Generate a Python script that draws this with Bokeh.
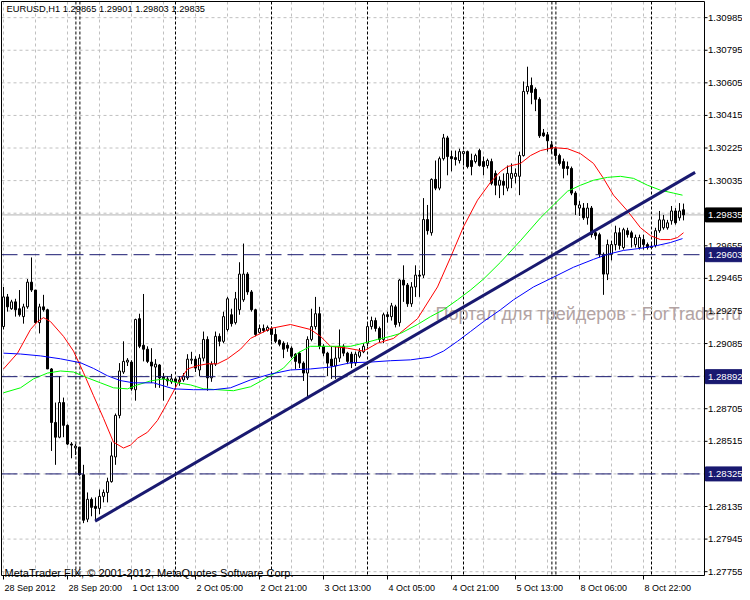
from bokeh.plotting import figure
from bokeh.models import ColumnDataSource, Range1d
from bokeh.core.properties import value
from bokeh.embed import file_html
from bokeh.resources import INLINE

# ---------------- data ----------------
opens = [
1.29184, 1.29357, 1.29288, 1.29328, 1.29288, 1.29242, 1.29299, 1.29443, 1.29397, 1.29207,
1.29299, 1.29282, 1.28937, 1.28625, 1.28539, 1.28741, 1.28608, 1.28499, 1.28477, 1.28481,
1.28320, 1.28061, 1.28177, 1.28136, 1.28124, 1.28194, 1.28217, 1.28280, 1.28424, 1.28666,
1.28919, 1.28977, 1.28977, 1.28816, 1.29230, 1.29075, 1.29052, 1.28977, 1.28948, 1.28960,
1.28890, 1.28879, 1.28862, 1.28879, 1.28862, 1.28873, 1.28885, 1.28988, 1.28994, 1.28931,
1.29000, 1.29109, 1.28885, 1.28965, 1.29127, 1.29098, 1.29167, 1.29253, 1.29207, 1.29282,
1.29340, 1.29490, 1.29386, 1.29282, 1.29150, 1.29173, 1.29161, 1.29173, 1.29138, 1.29104,
1.29087, 1.29075, 1.29058, 1.29023, 1.29029, 1.28971, 1.28913, 1.29109, 1.29184, 1.29259,
1.29069, 1.29029, 1.28994, 1.28954, 1.29000, 1.29069, 1.29029, 1.29023, 1.28971, 1.29011,
1.29037, 1.29087, 1.29184, 1.29219, 1.29173, 1.29109, 1.29253, 1.29242, 1.29299, 1.29207,
1.29455, 1.29426, 1.29317, 1.29415, 1.29484, 1.29484, 1.29808, 1.29731, 1.30042, 1.29991,
1.30163, 1.30284, 1.30175, 1.30169, 1.30152, 1.30192, 1.30204, 1.30152, 1.30146, 1.30210,
1.30146, 1.30123, 1.30146, 1.30077, 1.30008, 1.30031, 1.29991, 1.30048, 1.30060, 1.30060,
1.30181, 1.30555, 1.30590, 1.30567, 1.30509, 1.30313, 1.30302, 1.30244, 1.30221, 1.30181,
1.30146, 1.30117, 1.30106, 1.29962, 1.29875, 1.29875, 1.29818, 1.29875, 1.29731, 1.29720,
1.29605, 1.29490, 1.29605, 1.29662, 1.29731, 1.29645, 1.29743, 1.29731, 1.29662, 1.29645,
1.29691, 1.29662, 1.29645, 1.29657, 1.29743, 1.29760, 1.29760, 1.29801, 1.29858, 1.29818,
1.29865]

highs = [
1.29415, 1.29374, 1.29340, 1.29346, 1.29397, 1.29317, 1.29461, 1.29587, 1.29397, 1.29317,
1.29369, 1.29288, 1.28942, 1.28741, 1.28896, 1.28770, 1.28614, 1.28510, 1.28499, 1.28481,
1.28378, 1.28217, 1.28188, 1.28188, 1.28234, 1.28234, 1.28303, 1.28510, 1.28677, 1.28971,
1.29098, 1.29000, 1.28988, 1.29230, 1.29259, 1.29374, 1.29069, 1.29058, 1.28994, 1.28965,
1.28913, 1.28896, 1.28908, 1.28890, 1.28896, 1.28913, 1.29023, 1.29037, 1.29011, 1.29023,
1.29155, 1.29127, 1.28981, 1.29155, 1.29144, 1.29271, 1.29357, 1.29288, 1.29386, 1.29559,
1.29668, 1.29501, 1.29397, 1.29288, 1.29196, 1.29196, 1.29190, 1.29184, 1.29173, 1.29109,
1.29098, 1.29092, 1.29069, 1.29029, 1.29037, 1.28981, 1.29127, 1.29288, 1.29357, 1.29299,
1.29081, 1.29037, 1.29069, 1.29069, 1.29167, 1.29081, 1.29037, 1.29037, 1.29037, 1.29058,
1.29087, 1.29201, 1.29242, 1.29236, 1.29184, 1.29265, 1.29271, 1.29322, 1.29311, 1.29461,
1.29541, 1.29438, 1.29443, 1.29541, 1.29513, 1.29933, 1.29893, 1.30048, 1.30152, 1.30175,
1.30307, 1.30296, 1.30210, 1.30210, 1.30221, 1.30210, 1.30210, 1.30192, 1.30192, 1.30221,
1.30175, 1.30163, 1.30163, 1.30094, 1.30060, 1.30077, 1.30123, 1.30135, 1.30106, 1.30204,
1.30613, 1.30699, 1.30636, 1.30578, 1.30521, 1.30336, 1.30319, 1.30267, 1.30233, 1.30192,
1.30163, 1.30146, 1.30117, 1.29973, 1.29916, 1.29904, 1.29904, 1.29887, 1.29749, 1.29731,
1.29616, 1.29691, 1.29685, 1.29772, 1.29760, 1.29760, 1.29760, 1.29743, 1.29720, 1.29720,
1.29720, 1.29674, 1.29674, 1.29760, 1.29858, 1.29835, 1.29806, 1.29887, 1.29875, 1.29904,
1.29901]

lows = [
1.29167, 1.29271, 1.29282, 1.29242, 1.29242, 1.29201, 1.29288, 1.29386, 1.29201, 1.29144,
1.29271, 1.28937, 1.28459, 1.28378, 1.28533, 1.28539, 1.28493, 1.28416, 1.28435, 1.28314,
1.28038, 1.28044, 1.28078, 1.28050, 1.28090, 1.28159, 1.28159, 1.28274, 1.28378, 1.28649,
1.28908, 1.28954, 1.28810, 1.28752, 1.29058, 1.28981, 1.28971, 1.28856, 1.28827, 1.28827,
1.28752, 1.28839, 1.28850, 1.28827, 1.28839, 1.28862, 1.28873, 1.28965, 1.28919, 1.28896,
1.28981, 1.28810, 1.28862, 1.28954, 1.29069, 1.29087, 1.29155, 1.29184, 1.29196, 1.29253,
1.29328, 1.29369, 1.29271, 1.29127, 1.29144, 1.29150, 1.29155, 1.29098, 1.29087, 1.29069,
1.29000, 1.29037, 1.29000, 1.28937, 1.28942, 1.28867, 1.28764, 1.29098, 1.29167, 1.29052,
1.29011, 1.28896, 1.28879, 1.28879, 1.28977, 1.29011, 1.28965, 1.28942, 1.28954, 1.29000,
1.29029, 1.29069, 1.29167, 1.29155, 1.29092, 1.29087, 1.29207, 1.29219, 1.29179, 1.29184,
1.29328, 1.29299, 1.29299, 1.29357, 1.29357, 1.29467, 1.29720, 1.29714, 1.29979, 1.29979,
1.30152, 1.30066, 1.30089, 1.30123, 1.30135, 1.30123, 1.30106, 1.30066, 1.30135, 1.30117,
1.30066, 1.30106, 1.30008, 1.29950, 1.29933, 1.29950, 1.29973, 1.29991, 1.30019, 1.29950,
1.30175, 1.30538, 1.30480, 1.30440, 1.30284, 1.30290, 1.30204, 1.30192, 1.30152, 1.30123,
1.30048, 1.30066, 1.29950, 1.29835, 1.29829, 1.29806, 1.29778, 1.29703, 1.29691, 1.29587,
1.29369, 1.29455, 1.29570, 1.29628, 1.29633, 1.29633, 1.29703, 1.29645, 1.29645, 1.29633,
1.29633, 1.29633, 1.29639, 1.29645, 1.29731, 1.29749, 1.29749, 1.29778, 1.29778, 1.29801,
1.29803]

closes = [
1.29357, 1.29299, 1.29328, 1.29282, 1.29253, 1.29299, 1.29443, 1.29397, 1.29207, 1.29299,
1.29282, 1.28937, 1.28625, 1.28539, 1.28741, 1.28608, 1.28499, 1.28493, 1.28487, 1.28320,
1.28055, 1.28177, 1.28130, 1.28124, 1.28194, 1.28217, 1.28280, 1.28430, 1.28666, 1.28925,
1.28981, 1.28988, 1.28821, 1.29225, 1.29069, 1.29052, 1.28981, 1.28954, 1.28965, 1.28885,
1.28879, 1.28867, 1.28879, 1.28862, 1.28873, 1.28896, 1.28994, 1.28994, 1.28942, 1.29000,
1.29109, 1.28885, 1.28965, 1.29127, 1.29098, 1.29242, 1.29346, 1.29201, 1.29346, 1.29490,
1.29490, 1.29386, 1.29282, 1.29138, 1.29173, 1.29161, 1.29179, 1.29138, 1.29098, 1.29081,
1.29052, 1.29058, 1.29011, 1.28981, 1.28971, 1.28913, 1.29109, 1.29184, 1.29259, 1.29069,
1.29029, 1.28971, 1.28954, 1.29000, 1.29069, 1.29029, 1.28981, 1.28971, 1.29023, 1.29037,
1.29069, 1.29184, 1.29219, 1.29173, 1.29109, 1.29253, 1.29242, 1.29305, 1.29196, 1.29455,
1.29426, 1.29317, 1.29415, 1.29484, 1.29478, 1.29808, 1.29743, 1.30042, 1.29991, 1.30163,
1.30284, 1.30175, 1.30163, 1.30158, 1.30204, 1.30204, 1.30117, 1.30117, 1.30181, 1.30123,
1.30117, 1.30152, 1.30019, 1.30008, 1.30037, 1.30008, 1.30077, 1.30077, 1.30077, 1.30181,
1.30555, 1.30584, 1.30549, 1.30509, 1.30296, 1.30296, 1.30267, 1.30221, 1.30181, 1.30135,
1.30106, 1.30106, 1.29962, 1.29893, 1.29893, 1.29818, 1.29875, 1.29720, 1.29714, 1.29605,
1.29490, 1.29662, 1.29662, 1.29731, 1.29657, 1.29749, 1.29720, 1.29703, 1.29703, 1.29703,
1.29662, 1.29645, 1.29651, 1.29743, 1.29806, 1.29806, 1.29789, 1.29858, 1.29789, 1.29858,
1.29835]

# moving averages (bar index, price)
red_x = [0, 3.5, 6.75, 8.5, 10, 11.75, 15, 17.5, 20, 22.5, 25, 27.5, 30, 31.75, 33.5, 36, 38.5, 41,
         43.5, 46, 48.5, 51, 53.5, 56, 59.25, 61.75, 66.75, 71.75, 76.75, 79.25, 81.75, 86, 90, 93.5,
         97.5, 103.5, 108.5, 111.75, 115, 118.5, 121.75, 124.25, 126, 129.25, 131.75, 134.25, 137.5,
         141, 144.25, 147.5, 150, 152.5, 156, 159.25, 161.75, 164.25, 166.75, 168.5, 170]
red_y = [1.28937, 1.29029, 1.29167, 1.29213, 1.29236, 1.29213, 1.29127, 1.29041, 1.28915, 1.28781,
         1.28649, 1.28510, 1.28476, 1.28493, 1.28533, 1.28568, 1.28637, 1.28741, 1.28850, 1.28937,
         1.28956, 1.28967, 1.28967, 1.28996, 1.29052, 1.29115, 1.29173, 1.29196, 1.29167, 1.29127,
         1.29069, 1.29058, 1.29041, 1.29087, 1.29115, 1.29230, 1.29415, 1.29587, 1.29766, 1.29921,
         1.30025, 1.30088, 1.30117, 1.30135, 1.30181, 1.30210, 1.30227, 1.30221, 1.30192, 1.30135,
         1.30048, 1.29950, 1.29858, 1.29760, 1.29714, 1.29691, 1.29691, 1.29703, 1.29731]

green_x = [0, 4.25, 7.5, 11, 14.25, 17.5, 21, 24.25, 27.5, 31, 33.5, 36.75, 40, 43.5, 46.75, 50, 53.5,
           57.5, 61.75, 66.75, 70, 73.5, 76.75, 81.75, 86.75, 90, 93.5, 96.75, 99.25, 103.5, 106.75,
           110, 113.5, 116.75, 120, 124.25, 129.25, 134.25, 137.5, 141, 144.25, 147.5, 151, 154.25,
           157.5, 161, 164.25, 167.5, 169.75]
green_y = [1.28798, 1.28827, 1.28879, 1.28913, 1.28925, 1.28919, 1.28885, 1.28856, 1.28827, 1.28821,
           1.28844, 1.28867, 1.28879, 1.28856, 1.28844, 1.28821, 1.28816, 1.28810, 1.28833, 1.28897,
           1.28942, 1.29029, 1.29069, 1.29069, 1.29069, 1.29087, 1.29109, 1.29127, 1.29144, 1.29196,
           1.29242, 1.29282, 1.29340, 1.29397, 1.29461, 1.29559, 1.29685, 1.29818, 1.29893, 1.29973,
           1.30008, 1.30037, 1.30054, 1.30060, 1.30048, 1.30008, 1.29979, 1.29962, 1.29950]

blue_x = [0, 4.25, 9.25, 14.25, 19.25, 22.5, 26, 29.25, 32.5, 37.5, 42.5, 47.5, 52.5, 56.75, 61.75,
          66.75, 71.75, 76.75, 81.75, 86.75, 91.75, 96.75, 101.75, 106.75, 110, 113.5, 116.75, 120,
          124.25, 127.5, 132.5, 137.5, 142.5, 147.5, 151, 155, 159.25, 163.5, 166.75, 169.75]
blue_y = [1.29029, 1.29024, 1.29013, 1.28996, 1.28973, 1.28940, 1.28897, 1.28869, 1.28856, 1.28856,
          1.28821, 1.28816, 1.28816, 1.28827, 1.28873, 1.28907, 1.28931, 1.28937, 1.28948, 1.28973,
          1.28977, 1.28985, 1.28990, 1.29006, 1.29041, 1.29098, 1.29155, 1.29213, 1.29282, 1.29340,
          1.29415, 1.29472, 1.29530, 1.29576, 1.29605, 1.29628, 1.29640, 1.29657, 1.29674, 1.29697]

trend_x = [22.9, 172.9]
trend_y = [1.28050, 1.30083]

level_prices = [1.29603, 1.28892, 1.28325]
current_price = 1.29835
separator_bars = [18.1, 19.1, 43.0, 67.0, 91.0, 115.0, 137.1, 138.1, 162.0]

price_ticks = [1.27755, 1.27945, 1.28135, 1.28325, 1.28515, 1.28705, 1.28895, 1.29085, 1.29275,
               1.29465, 1.29655, 1.29845, 1.30035, 1.30225, 1.30415, 1.30605, 1.30795, 1.30985]
price_labels = ["1.27755", "1.27945", "1.28135", "1.28325", "1.28515", "1.28705", "1.28895",
                "1.29085", "1.29275", "1.29465", "1.29655", "1.29845", "1.30035", "1.30225",
                "1.30415", "1.30605", "1.30795", "1.30985"]
level_labels = ["1.29603", "1.28892", "1.28325"]
current_label = "1.29835"
time_ticks = [0, 16, 32, 48, 64, 80, 96, 112, 128, 144, 160]
time_labels = ["28 Sep 2012", "28 Sep 20:00", "1 Oct 13:00", "2 Oct 05:00", "2 Oct 21:00",
               "3 Oct 13:00", "4 Oct 05:00", "4 Oct 21:00", "5 Oct 13:00", "8 Oct 06:00", "8 Oct 22:00"]
grid_bars = [0, 8, 16, 24, 32, 40, 48, 56, 64, 72, 80, 88, 96, 104, 112, 120, 128, 136, 144,
             152, 160, 168]
header_text = "EURUSD,H1  1.29865 1.29901 1.29803 1.29835"
copyright_text = "MetaTrader FIX, \u00a9 2001-2012, MetaQuotes Software Corp."
watermark_text = "Портал для трейдеров - ForTrader.ru"

# ---------------- layout (pixel calibration of the terminal window) ----------------
W, H = 742, 592
BAR_PX = 4.0          # pixels per bar
BAR0_PX = 3.0         # pixel of bar 0
PTOP = 1.31085        # price at pixel row 0
UPP = 0.0000583       # price units per pixel
FONT = "Liberation Sans"
NAVY = "#191970"
GRID = "#c0c0c0"

def bx(px):
    return (px - BAR0_PX) / BAR_PX

def ypx(py):
    return PTOP - py * UPP

L, R = bx(1), bx(704)      # plot box edges
T, B = ypx(1), ypx(575)

p = figure(width=W, height=H, output_backend="svg", toolbar_location=None,
           x_range=Range1d(bx(0), bx(W)), y_range=Range1d(ypx(H), ypx(0)),
           x_axis_location=None, y_axis_location=None, min_border=0)
p.min_border_left = 0
p.min_border_right = 0
p.min_border_top = 0
p.min_border_bottom = 0
p.outline_line_color = None
p.background_fill_color = "white"
p.border_fill_color = "white"
p.grid.grid_line_color = None

# grid
p.segment(x0=grid_bars, x1=grid_bars, y0=[T] * len(grid_bars), y1=[B] * len(grid_bars),
          line_color=GRID, line_dash="3 3", line_width=1)
p.segment(x0=[L] * len(price_ticks), x1=[R] * len(price_ticks), y0=price_ticks, y1=price_ticks,
          line_color=GRID, line_dash="3 3", line_width=1)

# day separators
p.segment(x0=separator_bars, x1=separator_bars, y0=[T] * len(separator_bars),
          y1=[B] * len(separator_bars), line_color="black", line_dash="3 2", line_width=1)

# watermark (background object)
p.text(x=[bx(435)], y=[ypx(313)], text=[watermark_text], text_font=value(FONT),
       text_font_size="18px", text_color="#b2a3a3", text_baseline="alphabetic", text_align="left")

# current price line
p.segment(x0=[L], x1=[R], y0=[current_price], y1=[current_price], line_color="#b4b4b4", line_width=1)

# candles
n = len(closes)
xs = list(range(n))
tops = [max(o, c) for o, c in zip(opens, closes)]
bots = [min(o, c) for o, c in zip(opens, closes)]
fills = ["white" if c >= o else "black" for o, c in zip(opens, closes)]
src = ColumnDataSource(dict(x=xs, high=highs, low=lows, top=tops, bottom=bots, fill=fills))
p.segment(x0="x", y0="low", x1="x", y1="high", source=src, line_color="black", line_width=1)
p.vbar(x="x", width=0.5, top="top", bottom="bottom", source=src,
       fill_color="fill", line_color="black", line_width=1)

# moving averages
p.line(red_x, red_y, line_color="#ff0000", line_width=1)
p.line(green_x, green_y, line_color="#00ff00", line_width=1)
p.line(blue_x, blue_y, line_color="#0000ff", line_width=1)

# horizontal levels
p.segment(x0=[L] * len(level_prices), x1=[R] * len(level_prices), y0=level_prices, y1=level_prices,
          line_color=NAVY, line_dash="16 6", line_width=1)

# trendline
p.line(trend_x, trend_y, line_color=NAVY, line_width=3)

# chart box (axis lines)
p.quad(left=[L], right=[R], top=[T], bottom=[B], fill_color=None, line_color="black", line_width=1)

# price scale: tick marks + labels
p.segment(x0=[R] * len(price_ticks), x1=[bx(707)] * len(price_ticks), y0=price_ticks,
          y1=price_ticks, line_color="black", line_width=1)
p.text(x=[bx(707.5)] * len(price_ticks), y=price_ticks, text=price_labels, text_font=value(FONT),
       text_font_size="9.6px", text_color="black", text_align="left", text_baseline="middle")

# time scale: tick marks + labels
p.segment(x0=time_ticks, x1=time_ticks, y0=[B] * len(time_ticks), y1=[ypx(579)] * len(time_ticks),
          line_color="black", line_width=1)
p.text(x=time_ticks, y=[ypx(587)] * len(time_ticks), text=time_labels, text_font=value(FONT),
       text_font_size="9px", text_color="black", text_align="left", text_baseline="alphabetic",
       x_offset=1)

# price boxes for the horizontal lines and the current bid
box_h = 7 * UPP
p.quad(left=[bx(705)] * len(level_prices), right=[bx(W)] * len(level_prices),
       top=[v + box_h for v in level_prices], bottom=[v - box_h for v in level_prices],
       fill_color=NAVY, line_color=NAVY)
p.text(x=[bx(707.5)] * len(level_prices), y=level_prices, text=level_labels, text_font=value(FONT),
       text_font_size="9.6px", text_color="white", text_align="left", text_baseline="middle")
p.quad(left=[bx(705)], right=[bx(W)], top=[current_price + box_h], bottom=[current_price - box_h],
       fill_color="black", line_color="black")
p.text(x=[bx(707.5)], y=[current_price], text=[current_label], text_font=value(FONT),
       text_font_size="9.6px", text_color="white", text_align="left", text_baseline="middle")

# header / copyright
p.text(x=[bx(6)], y=[ypx(3)], text=[header_text], text_font=value(FONT), text_font_size="9.3px",
       text_color="black", text_align="left", text_baseline="top")
p.text(x=[bx(4)], y=[ypx(572.5)], text=[copyright_text], text_font=value(FONT), text_font_size="11px",
       text_color="black", text_align="left", text_baseline="alphabetic")

open("out.html", "w").write(file_html(p, INLINE))
